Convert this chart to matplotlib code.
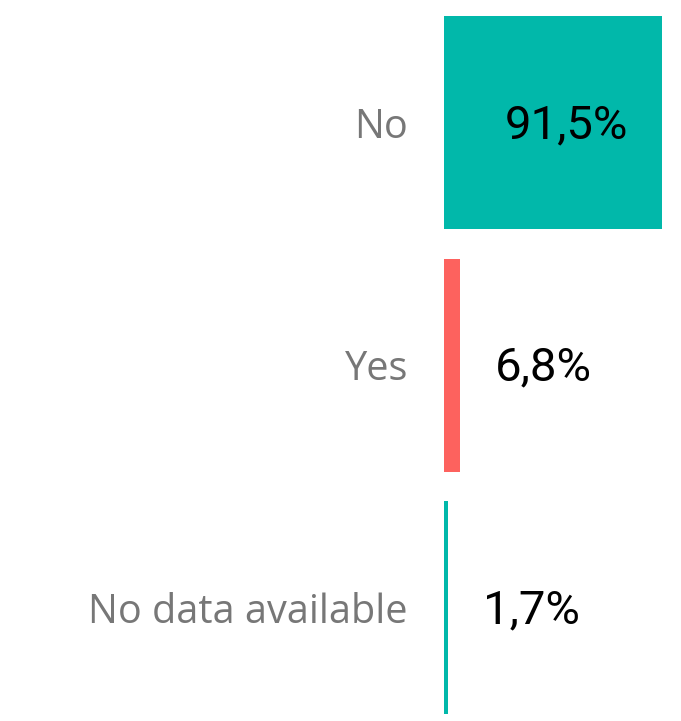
import matplotlib.pyplot as plt

categories = ["No", "Yes", "No data available"]
shares = [91.5, 6.8, 1.7]
labels = ["91,5%", "6,8%", "1,7%"]
colors = ["#01b8aa", "#fd625e", "#01b8aa"]

W, H = 681, 721
fig = plt.figure(figsize=(W / 100, H / 100), dpi=100, facecolor="white")

# axes start where the bars do; full figure height
left_px = 444
ax = fig.add_axes([left_px / W, 0, (W - left_px) / W, 1])
px_per_unit = 218 / 91.5
ax.set_xlim(0, (W - left_px) / px_per_unit)
ax.set_ylim((H - 122.5) / 242.5, -122.5 / 242.5)

ypos = list(range(len(categories)))
bars = ax.barh(ypos, shares, height=213 / 242.5, color=colors)

ax.set_yticks(ypos, categories)
ax.tick_params(axis="y", length=0, pad=36 * 0.72, labelsize=28.5, labelcolor="#777777")
for t in ax.get_yticklabels():
    t.set_fontfamily("Open Sans")
ax.set_xticks([])
for s in ax.spines.values():
    s.set_visible(False)

# value labels: inside the bar when it is wide, otherwise just past its end
for bar, value, text in zip(bars, shares, labels):
    yc = bar.get_y() + bar.get_height() / 2
    inside = value > 50
    ax.annotate(text, (value, yc), xytext=((-34 if inside else 35) * 0.72, -2),
                textcoords="offset points", ha="right" if inside else "left",
                va="center", fontsize=34, family="Roboto", color="black")

fig.savefig("out.png", dpi=100, facecolor="white")
